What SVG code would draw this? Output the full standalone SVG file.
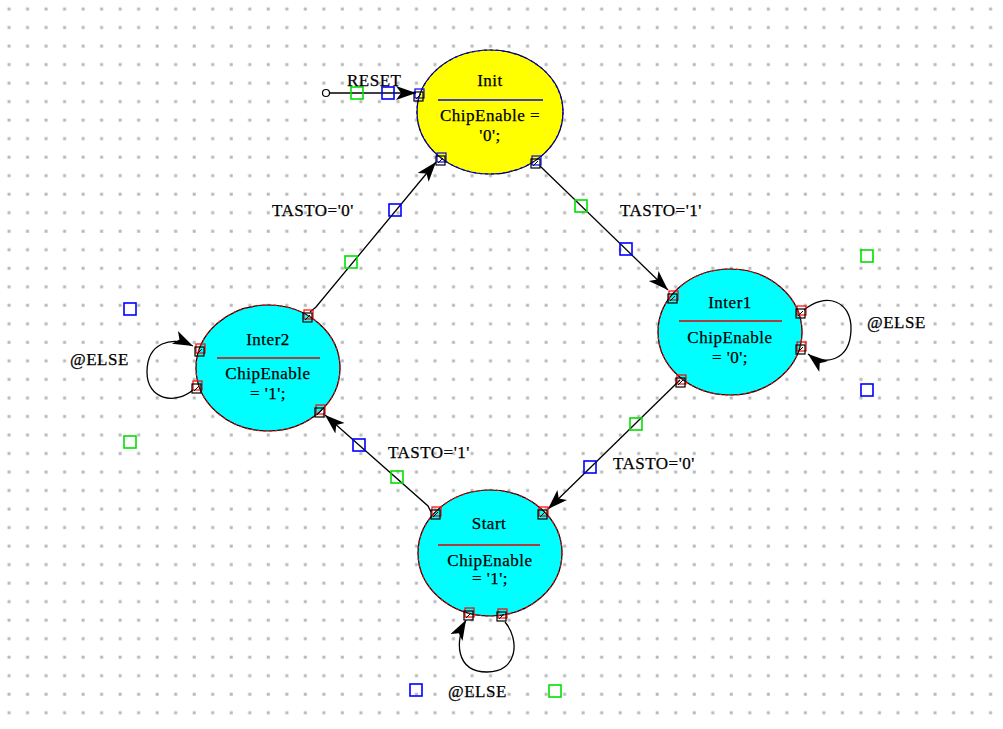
<svg xmlns="http://www.w3.org/2000/svg" xmlns:xlink="http://www.w3.org/1999/xlink" width="1003" height="729" viewBox="0 0 1003 729">
  <style>
    .txt { font-family: "Liberation Serif", "Times New Roman", serif; font-size: 17px; letter-spacing: 0.5px; fill: #000; stroke: #000; stroke-width: 0.25px; }
    .mid { text-anchor: middle; }
    .wire { fill: none; stroke: #000; stroke-width: 1.3; }
    .mk-g { fill: none; stroke: #00e000; stroke-width: 1.6; }
    .mk-b { fill: none; stroke: #0000ff; stroke-width: 1.6; }
    .st-cyan { fill: #00ffff; stroke: #000; stroke-width: 1.2; }
    .st-yel { fill: #ffff00; stroke: #000; stroke-width: 1.2; }
    .rim-red { fill: none; stroke: #ff0000; stroke-width: 1.2; stroke-dasharray: 3 3; }
    .rim-blue { fill: none; stroke: #0000ff; stroke-width: 1.2; stroke-dasharray: 3 3; }
    .sep-red { stroke: #e00000; stroke-width: 1.4; }
    .sep-blue { stroke: #0000ff; stroke-width: 1.4; }
  </style>
  <defs>
    <pattern id="dots" patternUnits="userSpaceOnUse" x="0" y="0" width="18.52" height="18.52">
      <rect x="7.5" y="7.5" width="3" height="3" fill="#b8b8b8"/>
    </pattern>
    <marker id="arw" markerUnits="userSpaceOnUse" markerWidth="22" markerHeight="16" refX="20" refY="7" orient="auto">
      <path d="M0,0 L20,7 L0,14 L5,7 z" fill="#000"/>
    </marker>
    <!-- attachment port: coloured outline square with black square on top -->
    <g id="portR">
      <rect x="-4" y="-6" width="9" height="9" fill="none" stroke="#ff0000" stroke-width="1.2"/>
      <rect x="-5" y="-3" width="9" height="9" fill="none" stroke="#000" stroke-width="1.2"/>
      <path d="M-3,4 L2,-1" stroke="#000" stroke-width="1"/>
    </g>
    <g id="portB">
      <rect x="-4" y="-6" width="9" height="9" fill="none" stroke="#0000ff" stroke-width="1.2"/>
      <rect x="-5" y="-3" width="9" height="9" fill="none" stroke="#000" stroke-width="1.2"/>
      <path d="M-3,4 L2,-1" stroke="#000" stroke-width="1"/>
    </g>
  </defs>

  <rect width="1003" height="729" fill="#fff"/>
  <rect width="1003" height="729" fill="url(#dots)"/>

  <!-- transitions -->
  <g id="connectors">
    <circle cx="326" cy="93" r="3.5" fill="#fff" stroke="#000" stroke-width="1.2"/>
    <path class="wire" d="M330 93 L416 93" marker-end="url(#arw)"/>
    <path class="wire" d="M540 166 L668 290" marker-end="url(#arw)"/>
    <path class="wire" d="M680 380 L548 509" marker-end="url(#arw)"/>
    <path class="wire" d="M431 512 L428 506 L325 415" marker-end="url(#arw)"/>
    <path class="wire" d="M310 312 L316 307 L436 162" marker-end="url(#arw)"/>
    <path class="wire" d="M804 310 C825 292 852 300 851 330 C850 362 823 366 808 354" marker-end="url(#arw)"/>
    <path class="wire" d="M193 390 C175 405 147 400 147 372 C147 342 172 336 193 346" marker-end="url(#arw)"/>
    <path class="wire" d="M505 622 C520 640 518 672 487 672 C455 672 455 640 466 620" marker-end="url(#arw)"/>

    <!-- label handles -->
    <rect class="mk-g" x="351" y="87" width="12" height="12"/>
    <rect class="mk-b" x="382" y="87" width="12" height="12"/>
    <rect class="mk-g" x="575" y="200" width="12" height="12"/>
    <rect class="mk-b" x="620" y="243" width="12" height="12"/>
    <rect class="mk-g" x="630" y="418" width="12" height="12"/>
    <rect class="mk-b" x="584" y="461" width="12" height="12"/>
    <rect class="mk-b" x="353" y="439" width="12" height="12"/>
    <rect class="mk-g" x="391" y="471" width="12" height="12"/>
    <rect class="mk-g" x="345" y="256" width="12" height="12"/>
    <rect class="mk-b" x="389" y="204" width="12" height="12"/>
    <rect class="mk-b" x="124" y="303" width="12" height="12"/>
    <rect class="mk-g" x="124" y="436" width="12" height="12"/>
    <rect class="mk-g" x="861" y="250" width="12" height="12"/>
    <rect class="mk-b" x="861" y="384" width="12" height="12"/>
    <rect class="mk-b" x="410" y="684" width="12" height="12"/>
    <rect class="mk-g" x="549" y="685" width="12" height="12"/>

    <!-- transition labels -->
    <text class="txt" x="347" y="86">RESET</text>
    <text class="txt" x="272" y="216">TASTO='0'</text>
    <text class="txt" x="620" y="216">TASTO='1'</text>
    <text class="txt" x="388" y="458">TASTO='1'</text>
    <text class="txt" x="613" y="469">TASTO='0'</text>
    <text class="txt" x="867" y="328">@ELSE</text>
    <text class="txt" x="70" y="365">@ELSE</text>
    <text class="txt" x="448" y="697">@ELSE</text>
  </g>

  <!-- states -->
  <g id="state-init">
    <ellipse class="st-yel" cx="490" cy="112" rx="73" ry="62"/>
    <ellipse class="rim-blue" cx="490" cy="112" rx="73" ry="62"/>
    <text class="txt mid" x="490" y="86">Init</text>
    <line class="sep-blue" x1="438" y1="100" x2="543" y2="100"/>
    <text class="txt mid" x="490" y="121">ChipEnable =</text>
    <text class="txt mid" x="490" y="141">'0';</text>
    <use xlink:href="#portB" x="419" y="95"/>
    <use xlink:href="#portB" x="441" y="159"/>
    <use xlink:href="#portB" x="536" y="162"/>
  </g>

  <g id="state-inter1">
    <ellipse class="st-cyan" cx="730" cy="332" rx="72" ry="63"/>
    <ellipse class="rim-red" cx="730" cy="332" rx="72" ry="63"/>
    <text class="txt mid" x="730" y="308">Inter1</text>
    <line class="sep-red" x1="679" y1="321" x2="782" y2="321"/>
    <text class="txt mid" x="730" y="343">ChipEnable</text>
    <text class="txt mid" x="730" y="363">= '0';</text>
    <use xlink:href="#portR" x="673" y="297"/>
    <use xlink:href="#portR" x="801" y="312"/>
    <use xlink:href="#portR" x="801" y="348"/>
    <use xlink:href="#portR" x="681" y="381"/>
  </g>

  <g id="state-inter2">
    <ellipse class="st-cyan" cx="268" cy="368" rx="72" ry="63"/>
    <ellipse class="rim-red" cx="268" cy="368" rx="72" ry="63"/>
    <text class="txt mid" x="268" y="345">Inter2</text>
    <line class="sep-red" x1="217" y1="358" x2="320" y2="358"/>
    <text class="txt mid" x="268" y="379">ChipEnable</text>
    <text class="txt mid" x="268" y="399">= '1';</text>
    <use xlink:href="#portR" x="308" y="316"/>
    <use xlink:href="#portR" x="200" y="350"/>
    <use xlink:href="#portR" x="197" y="387"/>
    <use xlink:href="#portR" x="320" y="411"/>
  </g>

  <g id="state-start">
    <ellipse class="st-cyan" cx="490" cy="553" rx="72" ry="63"/>
    <ellipse class="rim-red" cx="490" cy="553" rx="72" ry="63"/>
    <text class="txt mid" x="489" y="529">Start</text>
    <line class="sep-red" x1="438" y1="545" x2="540" y2="545"/>
    <text class="txt mid" x="490" y="566">ChipEnable</text>
    <text class="txt mid" x="490" y="584">= '1';</text>
    <use xlink:href="#portR" x="436" y="513"/>
    <use xlink:href="#portR" x="543" y="513"/>
    <use xlink:href="#portR" x="469" y="614"/>
    <use xlink:href="#portR" x="502" y="615"/>
  </g>
</svg>
